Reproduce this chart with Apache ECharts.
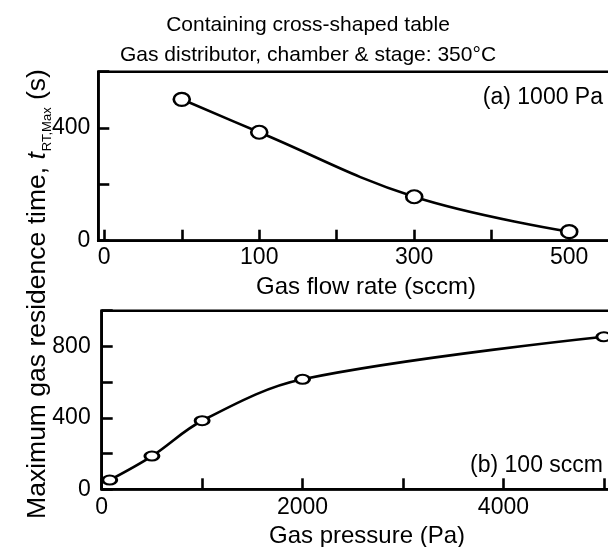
<!DOCTYPE html>
<html>
<head>
<meta charset="utf-8">
<script src="https://cdn.jsdelivr.net/npm/echarts@6/dist/echarts.min.js"></script>
<style>
html,body{margin:0;padding:0;background:#fff;}
#c{width:608px;height:547px;}
</style>
</head>
<body>
<div id="c"></div>
<script>
// ---- data ----
// (a) gas pressure 1000 Pa: printed flow-rate axis positions (equally spaced ticks)
var flowTicks = [0, 50, 100, 200, 300, 400, 500];
var flowLabels = [0, 100, 300, 500];
var flowRate = [50, 100, 300, 500];
var residenceA = [502, 385, 156, 32];
var yTicksA = [0, 400];
// (b) gas flow 100 sccm
var pressure = [80, 500, 1000, 2000, 5000];
var residenceB = [52, 186, 384, 616, 854];
var xTicksB = [0, 1000, 2000, 3000, 4000, 5000];
var xLabelsB = [0, 2000, 4000];
var yTicksB = [0, 400, 800];

var FONT = '"Liberation Sans", Arial, sans-serif';
var BLACK = '#000';
var AXW = 2.6;

var chart = echarts.init(document.getElementById('c'), null, {renderer: 'canvas'});

function axisCommon() {
  return {
    axisLine: {show: true, onZero: false, lineStyle: {color: BLACK, width: AXW}},
    axisTick: {show: true, inside: true, length: 11, lineStyle: {color: BLACK, width: AXW}},
    splitLine: {show: false},
    axisLabel: {color: BLACK, fontSize: 23, fontFamily: FONT, formatter: function (v) { return String(v); }}
  };
}

var xA = axisCommon();
xA.type = 'value'; xA.gridIndex = 0;
xA.min = -0.077; xA.max = 6.84;
xA.axisTick.customValues = flowTicks.map(function (v, i) { return i; });
xA.axisLabel.customValues = flowLabels.map(function (v) { return flowTicks.indexOf(v); });
xA.axisLabel.formatter = function (v) { return String(flowTicks[Math.round(v)]); };
xA.axisLabel.margin = 5;

var yA = axisCommon();
yA.type = 'value'; yA.gridIndex = 0;
yA.min = 0; yA.max = 600; yA.interval = 200;
yA.axisLabel.customValues = yTicksA;
yA.axisLabel.margin = 8;

var xB = axisCommon();
xB.type = 'value'; xB.gridIndex = 1;
xB.min = 0; xB.max = 5300; xB.interval = 1000;
xB.axisTick.customValues = xTicksB;
xB.axisLabel.customValues = xLabelsB;
xB.axisLabel.margin = 7;

var yB = axisCommon();
yB.type = 'value'; yB.gridIndex = 1;
yB.min = 0; yB.max = 1000; yB.interval = 200;
yB.axisLabel.customValues = yTicksB;
yB.axisLabel.margin = 11;

var dataA = flowRate.map(function (f, i) { return [flowTicks.indexOf(f), residenceA[i]]; });
var dataB = pressure.map(function (p, i) { return [p, residenceB[i]]; });

var option = {
  animation: false,
  backgroundColor: '#fff',
  grid: [
    {left: 98.3, top: 71.7, width: 536, height: 169, show: true, borderColor: BLACK, borderWidth: AXW, backgroundColor: 'transparent', containLabel: false, outerBoundsMode: 'none'},
    {left: 101.7, top: 310.7, width: 532.3, height: 178.6, show: true, borderColor: BLACK, borderWidth: AXW, backgroundColor: 'transparent', containLabel: false, outerBoundsMode: 'none'}
  ],
  xAxis: [xA, xB],
  yAxis: [yA, yB],
  series: [
    {
      type: 'line', xAxisIndex: 0, yAxisIndex: 0, data: dataA, smooth: 0.4, clip: false,
      lineStyle: {color: BLACK, width: 2.6},
      symbol: 'circle', symbolSize: [16, 13],
      itemStyle: {color: '#fff', borderColor: BLACK, borderWidth: 2.4},
      z: 5
    },
    {
      type: 'line', xAxisIndex: 1, yAxisIndex: 1, data: dataB, smooth: 0.35, clip: false,
      lineStyle: {color: BLACK, width: 2.6},
      symbol: 'circle', symbolSize: [14, 9],
      itemStyle: {color: '#fff', borderColor: BLACK, borderWidth: 2.4},
      z: 5
    }
  ],
  graphic: [
    {type: 'text', x: 308, y: 25, style: {text: 'Containing cross-shaped table', font: '21px ' + FONT, fill: BLACK, textAlign: 'center', textVerticalAlign: 'middle'}},
    {type: 'text', x: 308, y: 55, style: {text: 'Gas distributor, chamber & stage: 350°C', font: '21px ' + FONT, fill: BLACK, textAlign: 'center', textVerticalAlign: 'middle'}},
    {type: 'text', x: 366, y: 287, style: {text: 'Gas flow rate (sccm)', font: '24px ' + FONT, fill: BLACK, textAlign: 'center', textVerticalAlign: 'middle'}},
    {type: 'text', x: 367, y: 536, style: {text: 'Gas pressure (Pa)', font: '24px ' + FONT, fill: BLACK, textAlign: 'center', textVerticalAlign: 'middle'}},
    {type: 'text', x: 603, y: 98, style: {text: '(a) 1000 Pa', font: '23px ' + FONT, fill: BLACK, textAlign: 'right', textVerticalAlign: 'middle'}},
    {type: 'text', x: 603, y: 466, style: {text: '(b) 100 sccm', font: '23px ' + FONT, fill: BLACK, textAlign: 'right', textVerticalAlign: 'middle'}},
    {
      type: 'text', x: 38, y: 294, rotation: Math.PI / 2,
      style: {
        text: '{a|Maximum gas residence time, }{i|t}{s|RT,Max}{a| (s)}',
        textAlign: 'center', textVerticalAlign: 'middle', fill: BLACK,
        rich: {
          a: {fontSize: 26.5, fontFamily: FONT, lineHeight: 32, color: BLACK},
          i: {fontSize: 26.5, fontFamily: FONT, fontStyle: 'italic', lineHeight: 32, color: BLACK},
          s: {fontSize: 13, fontFamily: FONT, lineHeight: 16, verticalAlign: 'bottom', color: BLACK, padding: [4, 0, 0, 1]}
        }
      }
    }
  ]
};
chart.setOption(option);
</script>
</body>
</html>
